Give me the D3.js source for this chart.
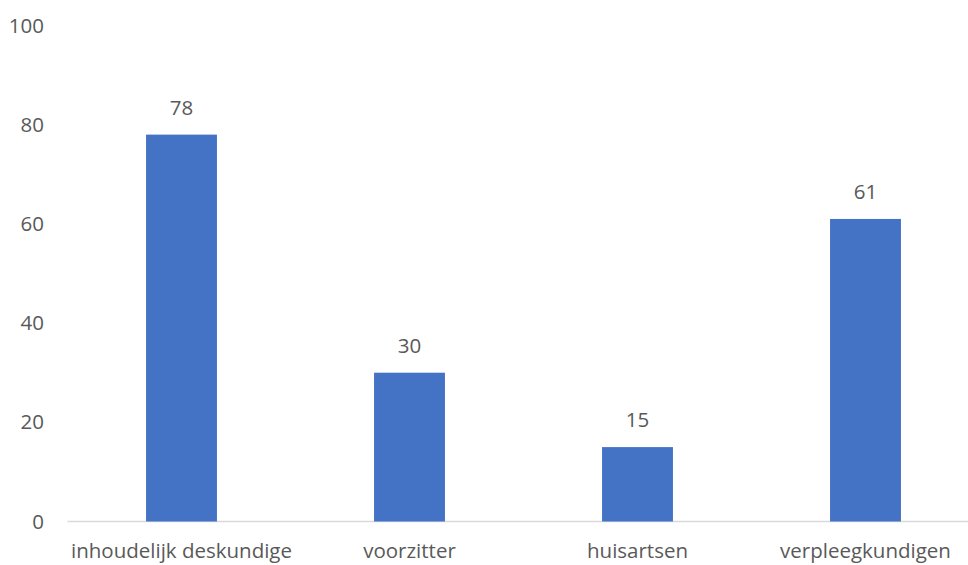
<!DOCTYPE html>
<html>
<head>
<meta charset="utf-8">
<script src="https://cdn.jsdelivr.net/npm/d3@7"></script>
<style>
  html, body { margin: 0; padding: 0; background: #fff; }
  svg { display: block; }
  text { font-family: "Open Sans", "Noto Sans", sans-serif; fill: #595959; }
</style>
</head>
<body>
<svg id="chart" width="968" height="565"></svg>
<script>
const categories = ["inhoudelijk deskundige", "voorzitter", "huisartsen", "verpleegkundigen"];
const values = [78, 30, 15, 61];
const yTicks = [0, 20, 40, 60, 80, 100];

const svg = d3.select("#chart");
const left = 67.5, step = 228;
const fontSize = 20.5;
const x = d3.scaleBand()
  .domain(categories)
  .range([left, left + step * categories.length])
  .paddingInner(0.689)
  .paddingOuter(0.689 / 2);
const y = d3.scaleLinear().domain([0, 100]).range([521.5, 25.5]);

// baseline
svg.append("line")
  .attr("x1", left).attr("x2", 968)
  .attr("y1", y(0)).attr("y2", y(0))
  .attr("stroke", "#d9d9d9").attr("stroke-width", 1.5);

// y tick labels
svg.append("g").selectAll("text").data(yTicks).join("text")
  .attr("x", 44).attr("y", d => y(d))
  .attr("dy", "0.35em")
  .attr("text-anchor", "end")
  .attr("font-size", fontSize)
  .text(d => d);

// bars
svg.append("g").selectAll("rect").data(values).join("rect")
  .attr("x", (d, i) => x(categories[i]))
  .attr("width", x.bandwidth())
  .attr("y", d => y(d))
  .attr("height", d => y(0) - y(d))
  .attr("fill", "#4472c4");

// value labels
svg.append("g").selectAll("text").data(values).join("text")
  .attr("x", (d, i) => x(categories[i]) + x.bandwidth() / 2)
  .attr("y", d => y(d) - 27)
  .attr("dy", "0.35em")
  .attr("text-anchor", "middle")
  .attr("font-size", fontSize)
  .text(d => d);

// category labels
svg.append("g").selectAll("text").data(categories).join("text")
  .attr("x", d => x(d) + x.bandwidth() / 2)
  .attr("y", 551)
  .attr("dy", "0.35em")
  .attr("text-anchor", "middle")
  .attr("font-size", fontSize)
  .text(d => d);
</script>
</body>
</html>
